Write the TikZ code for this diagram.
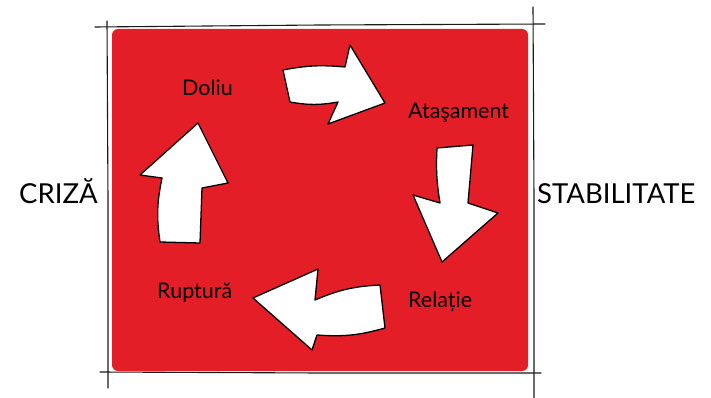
\documentclass[tikz,border=0pt]{standalone}
\usepackage{fontspec}
\setmainfont{Lato}
\usepackage{tikz}
\definecolor{boardred}{HTML}{E31E26}
\definecolor{sketchgray}{HTML}{1A1A1A}

\begin{document}
\begin{tikzpicture}[x=1pt, y=-1pt,
  sketch/.style={draw=sketchgray, line width=1.1pt, line cap=round},
  cyclearrow/.style={fill=white, draw=black, line width=1.3pt, line join=round},
  stage/.style={inner sep=0pt, anchor=base west, font=\fontsize{21.5}{24}\selectfont},
  pole/.style={inner sep=0pt, anchor=base west, font=\fontsize{27.5}{30}\selectfont}]
\useasboundingbox (0,0) rectangle (711,398);
% red board
\fill[boardred, rounded corners=6pt] (112,29) rectangle (528,371);
% sketched frame
\draw[sketch] (95,27) -- (320,25) -- (545,24);
\draw[sketch] (107,21) -- (108,200) -- (108,388);
\draw[sketch] (533,7) -- (534,200) -- (534,398);
\draw[sketch] (100,372) -- (320,373) -- (541,373);
% stages
\node[stage] (doliu) at (182,96) {Doliu};
\node[stage] (atas) at (408,119) {Ataşament};
\node[stage] (rel) at (408,307) {Relație};
\node[stage] (rupt) at (157,298) {Ruptură};
\node[pole] (criza) at (19,203) {CRIZĂ};
\node[pole] (stab) at (537,203) {STABILITATE};
% cycle arrows
\draw[cyclearrow] (283,70) to[bend left=8] (345,67) -- (350,45) -- (385,103)
  -- (328,124) -- (338,102) to[bend left=10] (290,102) -- cycle;
\draw[cyclearrow] (437,148) -- (473,145) -- (468,203) -- (498,213)
  -- (442,262) -- (413,195) -- (440,203) to[bend left=6] cycle;
\draw[cyclearrow] (385,328) to[bend left=10] (317,335) -- (312,350)
  -- (253,298) -- (318,269) -- (315,300) to[bend left=10] (380,285) -- cycle;
\draw[cyclearrow] (160,242) to[bend left=10] (162,178) -- (140,175)
  -- (198,123) -- (228,183) -- (202,188) -- (200,243) -- cycle;
\end{tikzpicture}
\end{document}
